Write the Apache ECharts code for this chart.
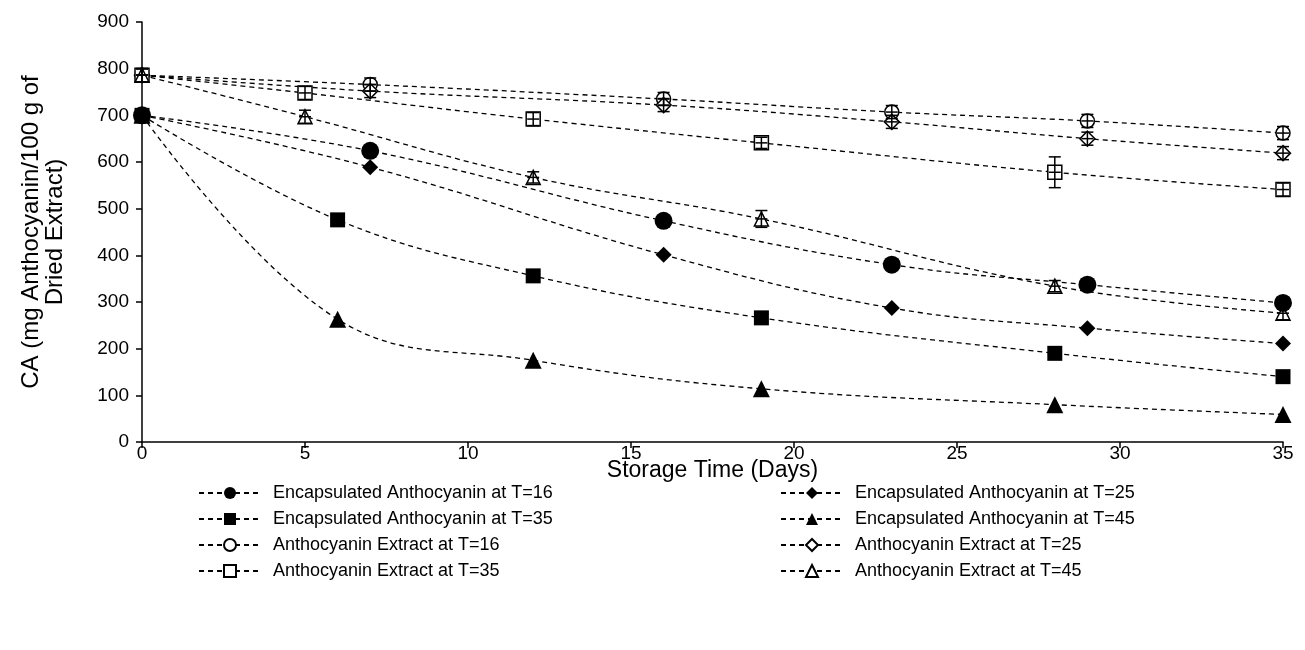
<!DOCTYPE html>
<html>
<head>
<meta charset="utf-8">
<script src="https://cdn.jsdelivr.net/npm/echarts@6/dist/echarts.min.js"></script>
<style>
  html, body { margin: 0; padding: 0; background: #fff; }
  #main { width: 1305px; height: 650px; }
</style>
</head>
<body>
<div id="main"></div>
<script>
// storage days (three sampling schedules)
var daysA = [0, 7, 16, 23, 29, 35];
var daysB = [0, 6, 12, 19, 28, 35];
var daysC = [0, 5, 12, 19, 28, 35];

// CA values, mg anthocyanin / 100 g dried extract
var enc16 = [700, 624, 474, 380, 337, 298];
var enc25 = [700, 589, 401, 287, 244, 211];
var enc35 = [700, 476, 356, 266, 190, 140];
var enc45 = [700, 263, 175, 114, 80, 59];
var ext16 = [786, 766, 735, 707, 688, 662];
var ext25 = [786, 752, 722, 686, 650, 619];
var ext35 = [786, 748, 692, 641, 578, 541];
var ext45 = [786, 697, 567, 478, 334, 276];

// error bar half widths for the extract series
var ext16Err = [14, 14, 14, 14, 14, 14];
var ext25Err = [14, 14, 14, 14, 14, 14];
var ext35Err = [14, 14, 14, 12, 33, 14];
var ext45Err = [14, 14, 12, 18, 12, 14];

var names = [
    'Encapsulated Anthocyanin at T=16',
    'Encapsulated Anthocyanin at T=25',
    'Encapsulated Anthocyanin at T=35',
    'Encapsulated Anthocyanin at T=45',
    'Anthocyanin Extract at T=16',
    'Anthocyanin Extract at T=25',
    'Anthocyanin Extract at T=35',
    'Anthocyanin Extract at T=45'
];

var FONT = 'Liberation Sans, Arial, sans-serif';

function pairs(xs, ys) {
    return xs.map(function (x, i) { return [x, ys[i]]; });
}

function errPoints(xs, ys, es) {
    return xs.map(function (x, i) { return [x, ys[i], es[i]]; });
}

function lineSeries(name, xs, ys, symbol, size, filled) {
    return {
        name: name,
        type: 'line',
        smooth: 0.4,
        showAllSymbol: true,
        symbol: symbol,
        symbolSize: size,
        data: pairs(xs, ys),
        lineStyle: { color: '#000', width: 1.3, type: [5, 4] },
        itemStyle: filled
            ? { color: '#000', borderColor: '#000', borderWidth: 0 }
            : { color: '#fff', borderColor: '#000', borderWidth: 1.5 },
        emphasis: { disabled: true },
        animation: false,
        z: 2
    };
}

function errSeries(xs, ys, es) {
    return {
        type: 'custom',
        data: errPoints(xs, ys, es),
        clip: false,
        z: 5,
        silent: true,
        animation: false,
        renderItem: function (params, api) {
            var x = api.value(0), y = api.value(1), e = api.value(2);
            var c = api.coord([x, y]);
            var top = api.coord([x, y + e]);
            var bot = api.coord([x, y - e]);
            var hw = 6;
            var st = { stroke: '#000', lineWidth: 1.5 };
            return {
                type: 'group',
                children: [
                    { type: 'line', shape: { x1: c[0], y1: top[1], x2: c[0], y2: bot[1] }, style: st },
                    { type: 'line', shape: { x1: c[0] - hw, y1: top[1], x2: c[0] + hw, y2: top[1] }, style: st },
                    { type: 'line', shape: { x1: c[0] - hw, y1: bot[1], x2: c[0] + hw, y2: bot[1] }, style: st },
                    { type: 'line', shape: { x1: c[0] - hw, y1: c[1], x2: c[0] + hw, y2: c[1] }, style: st }
                ]
            };
        }
    };
}

var legendBase = {
    orient: 'vertical',
    top: 477,
    itemWidth: 62,
    itemHeight: 15,
    itemGap: 4,
    selectedMode: false,
    textStyle: { fontFamily: FONT, fontSize: 18, color: '#000', lineHeight: 22, padding: [0, 0, 0, 7] }
};

var chart = echarts.init(document.getElementById('main'));

var option = {
    backgroundColor: '#fff',
    textStyle: { fontFamily: FONT },
    grid: { left: 142, right: 22, top: 22, bottom: 208 },
    legend: [
        Object.assign({}, legendBase, { left: 193, data: [names[0], names[2], names[4], names[6]] }),
        Object.assign({}, legendBase, { left: 775, data: [names[1], names[3], names[5], names[7]] })
    ],
    xAxis: {
        type: 'value',
        min: 0,
        max: 35,
        interval: 5,
        name: 'Storage Time (Days)',
        nameLocation: 'middle',
        nameGap: 17,
        nameMoveOverlap: false,
        nameTextStyle: { fontFamily: FONT, fontSize: 23, color: '#000' },
        axisLine: { show: true, onZero: false, lineStyle: { color: '#000', width: 1.5 } },
        axisTick: { show: true, inside: false, length: 6, lineStyle: { color: '#000', width: 1.5 } },
        axisLabel: { fontFamily: FONT, fontSize: 19, color: '#000', margin: 2 },
        splitLine: { show: false }
    },
    yAxis: {
        type: 'value',
        min: 0,
        max: 900,
        interval: 100,
        name: 'CA (mg Anthocyanin/100 g of\nDried Extract)',
        nameLocation: 'middle',
        nameGap: 75,
        nameMoveOverlap: false,
        nameTextStyle: { fontFamily: FONT, fontSize: 24, color: '#000', lineHeight: 24 },
        axisLine: { show: true, lineStyle: { color: '#000', width: 1.5 } },
        axisTick: { show: true, inside: false, length: 6, lineStyle: { color: '#000', width: 1.5 } },
        axisLabel: { fontFamily: FONT, fontSize: 19, color: '#000', margin: 13 },
        splitLine: { show: false }
    },
    series: [
        lineSeries(names[4], daysA, ext16, 'circle', 14, false),
        lineSeries(names[5], daysA, ext25, 'diamond', 15, false),
        lineSeries(names[6], daysC, ext35, 'rect', 14, false),
        lineSeries(names[7], daysC, ext45, 'triangle', 14, false),
        errSeries(daysA, ext16, ext16Err),
        errSeries(daysA, ext25, ext25Err),
        errSeries(daysC, ext35, ext35Err),
        errSeries(daysC, ext45, ext45Err),
        lineSeries(names[0], daysA, enc16, 'circle', 18, true),
        lineSeries(names[1], daysA, enc25, 'diamond', 16, true),
        lineSeries(names[2], daysB, enc35, 'rect', 15, true),
        lineSeries(names[3], daysB, enc45, 'triangle', 17, true)
    ]
};

chart.setOption(option);
</script>
</body>
</html>
